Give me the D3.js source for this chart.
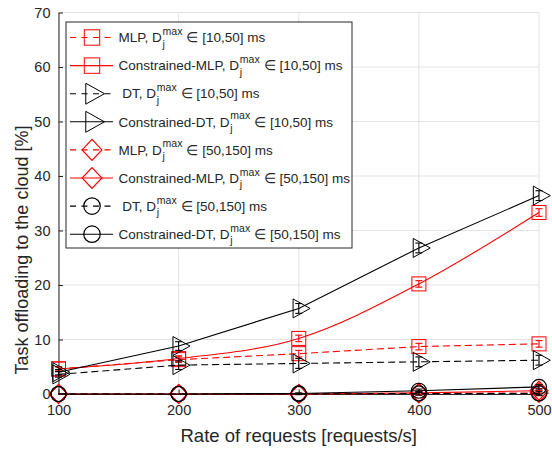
<!DOCTYPE html>
<html>
<head>
<meta charset="utf-8">
<script src="https://cdn.jsdelivr.net/npm/d3@7"></script>
<style>
  body { margin: 0; background: #fff; }
  text { font-family: "Liberation Sans", Arial, Helvetica, sans-serif; fill: #262626; }
</style>
</head>
<body>
<div id="chart"></div>
<script>
// request rates on the x axis
var rates = [100, 200, 300, 400, 500];
var xTicks = [100, 200, 300, 400, 500];
var yTicks = [0, 10, 20, 30, 40, 50, 60, 70];

// offloading percentage per series
var mlp10  = [4.6, 6.3, 7.4, 8.7, 9.2];
var cmlp10 = [4.6, 6.5, 10.2, 20.2, 33.3];
var dt10   = [3.6, 5.3, 5.6, 5.9, 6.2];
var cdt10  = [4.0, 8.8, 15.7, 26.8, 36.4];
var mlp50  = [0, 0, 0, 0.1, 0.2];
var cmlp50 = [0, 0, 0, 0.2, 0.6];
var dt50   = [0, 0, 0, 0.1, 0.1];
var cdt50  = [0, 0, 0.1, 0.6, 1.3];

// half-width of the error bars
var errMlp10  = [0.4, 0.5, 0.6, 0.6, 0.6];
var errCmlp10 = [0.4, 0.5, 0.6, 0.6, 0.7];
var errDt10   = [0.5, 0.8, 0.9, 0.9, 0.9];
var errCdt10  = [0.5, 0.8, 0.9, 0.9, 0.9];
var errSmall  = [0, 0, 0.1, 0.3, 0.4];

var names  = ["MLP", "Constrained-MLP", " DT", "Constrained-DT", "MLP", "Constrained-MLP", " DT", "Constrained-DT"];
var ranges = ["[10,50]", "[10,50]", "[10,50]", "[10,50]", "[50,150]", "[50,150]", "[50,150]", "[50,150]"];

var series = [
	{ vals: mlp10,  err: errMlp10,  color: "#ff0000", dash: true,  marker: "square" },
	{ vals: cmlp10, err: errCmlp10, color: "#ff0000", dash: false, marker: "square", smooth: true },
	{ vals: dt10,   err: errDt10,   color: "#000000", dash: true,  marker: "triangle" },
	{ vals: cdt10,  err: errCdt10,  color: "#000000", dash: false, marker: "triangle" },
	{ vals: mlp50,  err: errSmall,  color: "#ff0000", dash: true,  marker: "diamond" },
	{ vals: cmlp50, err: errSmall,  color: "#ff0000", dash: false, marker: "diamond" },
	{ vals: dt50,   err: errSmall,  color: "#000000", dash: true,  marker: "circle" },
	{ vals: cdt50,  err: errSmall,  color: "#000000", dash: false, marker: "circle" }
];

var width = 552, height = 451;
var plotL = 58.5, plotR = 539, plotT = 12.5, plotB = 394;

var svg = d3.select("#chart").append("svg")
	.attr("width", width)
	.attr("height", height);

var x = d3.scaleLinear().domain([100, 500]).range([plotL, plotR]);
var y = d3.scaleLinear().domain([0, 70]).range([plotB, plotT]);

// grid
var grid = svg.append("g").attr("class", "grid");
grid.selectAll("line.gx").data(xTicks).enter().append("line")
	.attr("x1", function(d) { return x(d); }).attr("x2", function(d) { return x(d); })
	.attr("y1", plotT).attr("y2", plotB)
	.attr("stroke", "#e3e3e3").attr("stroke-width", 1);
grid.selectAll("line.gy").data(yTicks).enter().append("line")
	.attr("y1", function(d) { return y(d); }).attr("y2", function(d) { return y(d); })
	.attr("x1", plotL).attr("x2", plotR)
	.attr("stroke", "#e3e3e3").attr("stroke-width", 1);

// axes, ticks pointing inward like matlab
var xAxis = svg.append("g")
	.attr("transform", "translate(0," + plotB + ")")
	.call(d3.axisBottom(x).tickValues(xTicks).tickSizeInner(-4.5).tickSizeOuter(0).tickPadding(11));
var yAxis = svg.append("g")
	.attr("transform", "translate(" + plotL + ",0)")
	.call(d3.axisLeft(y).tickValues(yTicks).tickSizeInner(-4.5).tickSizeOuter(0).tickPadding(8));
[xAxis, yAxis].forEach(function(a) {
	a.select(".domain").attr("stroke", "#262626");
	a.selectAll(".tick line").attr("stroke", "#262626");
	a.selectAll(".tick text").attr("fill", "#262626")
		.style("font-size", "14.5px")
		.style("font-family", '"Liberation Sans", Arial, sans-serif');
});

svg.append("text")
	.attr("x", (plotL + plotR) / 2).attr("y", 441.5)
	.attr("text-anchor", "middle")
	.style("font-size", "18.5px")
	.text("Rate of requests [requests/s]");

svg.append("text")
	.attr("transform", "translate(22,250) rotate(-90)")
	.attr("dy", "0.35em")
	.attr("text-anchor", "middle")
	.style("font-size", "18px")
	.text("Task offloading to the cloud [%]");

function drawMarker(g, type, cx, cy, color, big) {
	var k = big ? 1.1 : 1;
	if (type === "square") {
		var s = 7 * k;
		g.append("rect").attr("x", cx - s).attr("y", cy - s).attr("width", 2 * s).attr("height", 2 * s)
			.attr("fill", "none").attr("stroke", color).attr("stroke-width", 1);
	} else if (type === "triangle") {
		var h = 9.5 * k, w = 17 * k;
		g.append("path")
			.attr("d", "M" + (cx - w / 3) + "," + (cy - h) + "L" + (cx + 2 * w / 3) + "," + cy + "L" + (cx - w / 3) + "," + (cy + h) + "Z")
			.attr("fill", "none").attr("stroke", color).attr("stroke-width", 1);
	} else if (type === "diamond") {
		var dh = 9.5 * k, dw = 9 * k;
		g.append("path")
			.attr("d", "M" + cx + "," + (cy - dh) + "L" + (cx + dw) + "," + cy + "L" + cx + "," + (cy + dh) + "L" + (cx - dw) + "," + cy + "Z")
			.attr("fill", "none").attr("stroke", color).attr("stroke-width", 1.2);
	} else {
		g.append("circle").attr("cx", cx).attr("cy", cy).attr("r", 7.5 * k)
			.attr("fill", "none").attr("stroke", color).attr("stroke-width", 1.2);
	}
}

var plot = svg.append("g").attr("class", "plot");

series.forEach(function(s) {
	var pts = rates.map(function(r, i) { return [r, s.vals[i], s.err[i]]; });
	var line = d3.line()
		.x(function(d) { return x(d[0]); })
		.y(function(d) { return y(d[1]); })
		.curve(s.smooth ? d3.curveMonotoneX : d3.curveLinear);
	plot.append("path").datum(pts)
		.attr("d", line)
		.attr("fill", "none")
		.attr("stroke", s.color)
		.attr("stroke-width", 1.1)
		.attr("stroke-dasharray", s.dash ? "7,4" : null);

	var mg = plot.append("g");
	pts.forEach(function(p) {
		var cx = x(p[0]), cy = y(p[1]);
		if (p[2] > 0) {
			var y0 = y(p[1] - p[2]), y1 = y(p[1] + p[2]);
			mg.append("line").attr("x1", cx).attr("x2", cx).attr("y1", y0).attr("y2", y1)
				.attr("stroke", s.color).attr("stroke-width", 1.1);
			[y0, y1].forEach(function(yy) {
				mg.append("line").attr("x1", cx - 3.5).attr("x2", cx + 3.5).attr("y1", yy).attr("y2", yy)
					.attr("stroke", s.color).attr("stroke-width", 1.1);
			});
		}
		drawMarker(mg, s.marker, cx, cy, s.color, false);
	});
});

// legend
var lg = svg.append("g").attr("class", "legend");
lg.append("rect")
	.attr("x", 66).attr("y", 22).attr("width", 286).attr("height", 226)
	.attr("fill", "#fff").attr("stroke", "#262626").attr("stroke-width", 1);

series.forEach(function(s, i) {
	var cy = 37.5 + i * 28.1;
	lg.append("line")
		.attr("x1", 70).attr("x2", 113).attr("y1", cy).attr("y2", cy)
		.attr("stroke", s.color).attr("stroke-width", 1.1)
		.attr("stroke-dasharray", s.dash ? "6,5.5" : null);
	drawMarker(lg, s.marker, 92, cy, s.color, true);

	var tx = 118.5;
	var t1 = lg.append("text").attr("x", tx).attr("y", cy).attr("dy", "0.35em")
		.style("font-size", "13.5px").style("white-space", "pre")
		.attr("xml:space", "preserve")
		.text(names[i] + ", D");
	var w1 = t1.node().getComputedTextLength();
	var sup = lg.append("text").attr("x", tx + w1 + 0.8).attr("y", cy - 2.5)
		.style("font-size", "10.5px").text("max");
	lg.append("text").attr("x", tx + w1 + 0.8).attr("y", cy + 10)
		.style("font-size", "10.5px").text("j");
	var w2 = sup.node().getComputedTextLength();
	lg.append("text").attr("x", tx + w1 + w2 + 1).attr("y", cy).attr("dy", "0.35em")
		.style("font-size", "13.5px").style("white-space", "pre")
		.attr("xml:space", "preserve")
		.text(" \u2208 " + ranges[i] + " ms");
});
</script>
</body>
</html>
